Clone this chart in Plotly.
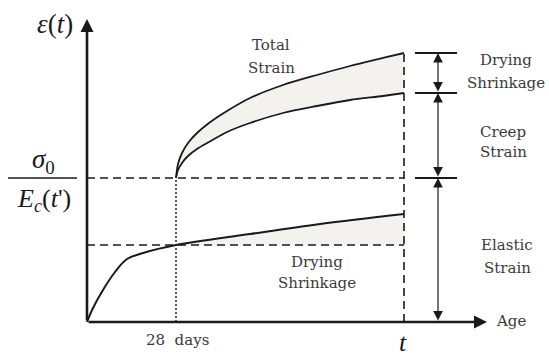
import plotly.graph_objects as go

# ---- data (age units, strain units; origin at lower-left of axes) ----
total_x = [89, 91, 95, 101, 110, 122, 140, 163, 196, 230, 263, 296, 317]
total_y = [144, 158, 169, 179, 189, 199, 211, 224, 237, 247, 256, 264, 269]

creep_x = [89, 91, 95, 101, 110, 122, 140, 163, 196, 230, 263, 296, 317]
creep_y = [144, 152, 159, 166, 173, 180, 190, 199, 209, 216, 222, 226, 229]

shrink_x = [0, 6, 16, 28, 40, 56, 89, 163, 233, 317]
shrink_y = [0, 14, 32, 50, 63, 69, 77, 88, 98, 108]

t28 = 89          # age at 28 days
t_end = 317       # age t
elastic = 144     # sigma0 / Ec(t')
shrink28 = 77     # shrinkage at 28 days

TXT = dict(family="DejaVu Serif", size=15, color="#3a3a3a")
MATH = "Liberation Serif"
INK = "#1a1a1a"
FILL = "#f3f2ee"

fig = go.Figure()

# fill between total and creep curves
fig.add_trace(go.Scatter(x=creep_x, y=creep_y, mode="lines",
                         line=dict(color=INK, width=1.8, shape="spline", smoothing=0.8),
                         hoverinfo="skip"))
fig.add_trace(go.Scatter(x=total_x, y=total_y, mode="lines",
                         line=dict(color=INK, width=1.8, shape="spline", smoothing=0.8),
                         fill="tonexty", fillcolor=FILL, hoverinfo="skip"))

# shrinkage fill region after 28 days
sx = [x for x in shrink_x if x >= t28]
sy = [y for x, y in zip(shrink_x, shrink_y) if x >= t28]
fig.add_trace(go.Scatter(x=sx + [t_end, t28], y=sy + [shrink28, shrink28],
                         mode="lines", line=dict(width=0), fill="toself",
                         fillcolor=FILL, hoverinfo="skip"))

# dashed guide lines
fig.add_trace(go.Scatter(x=[0, t_end], y=[elastic, elastic], mode="lines",
                         line=dict(color=INK, width=1.6, dash="8px,5px"), hoverinfo="skip"))
fig.add_trace(go.Scatter(x=[0, t_end], y=[shrink28, shrink28], mode="lines",
                         line=dict(color=INK, width=1.6, dash="8px,5px"), hoverinfo="skip"))
fig.add_trace(go.Scatter(x=[t_end, t_end], y=[0, total_y[-1]], mode="lines",
                         line=dict(color=INK, width=1.6, dash="8px,5px"), hoverinfo="skip"))
fig.add_trace(go.Scatter(x=[t28, t28], y=[0, elastic], mode="lines",
                         line=dict(color=INK, width=1.4, dash="2px,2px"), hoverinfo="skip"))

# shrinkage curve
fig.add_trace(go.Scatter(x=shrink_x, y=shrink_y, mode="lines",
                         line=dict(color=INK, width=2, shape="spline"), hoverinfo="skip"))

# right-hand bracket ticks
for yv in [total_y[-1], creep_y[-1], elastic]:
    fig.add_trace(go.Scatter(x=[328, 370], y=[yv, yv], mode="lines",
                             line=dict(color=INK, width=1.8), hoverinfo="skip"))

ann = []
def arrow(x0, y0, x1, y1, width, both=False, size=1.0):
    ann.append(dict(x=x1, y=y1, ax=x0, ay=y0, xref="x", yref="y", axref="x", ayref="y",
                    text="", showarrow=True, arrowhead=2, arrowsize=size,
                    arrowwidth=width, arrowcolor=INK, standoff=0, startstandoff=0,
                    arrowside="end+start" if both else "end", startarrowhead=2,
                    startarrowsize=size))

# axes
arrow(0, 0, 0, 303, 2.6, size=1.0)
arrow(0, 0, 400, 0, 2.6, size=1.0)
# double arrows
arrow(351, creep_y[-1], 351, total_y[-1], 1.2, both=True, size=1.6)
arrow(351, elastic, 351, creep_y[-1], 1.2, both=True, size=1.6)
arrow(351, 0, 351, elastic, 1.2, both=True, size=1.6)

def text(x, y, s, font=TXT):
    ann.append(dict(x=x, y=y, xref="x", yref="y", text=s, showarrow=False,
                    font=font, xanchor="center", yanchor="middle"))

text(184, 277, "Total")
text(184, 254, "Strain")
text(230, 60, "Drying")
text(230, 39, "Shrinkage")
text(419, 262, "Drying")
text(419, 239, "Shrinkage")
text(416, 190, "Creep")
text(416, 170, "Strain")
text(420, 77, "Elastic")
text(420, 54, "Strain")
text(424, 1, "Age")
text(90, -18, "28  days")
text(316, -20, "<i>t</i>", dict(family=MATH, size=26, color=INK))
text(-32, 298, "<i>ε</i>(<i>t</i>)", dict(family=MATH, size=27, color=INK))
text(-44, 161, "<i>σ</i><sub>0</sub>", dict(family=MATH, size=27, color=INK))
text(-43, 122, "<i>E<sub>c</sub></i>(<i>t</i>')", dict(family=MATH, size=26, color=INK))

fig.update_layout(
    width=549, height=356, margin=dict(l=0, r=0, t=0, b=0),
    paper_bgcolor="white", plot_bgcolor="white", showlegend=False,
    xaxis=dict(range=[-87, 462], visible=False, fixedrange=True),
    yaxis=dict(range=[-34, 322], visible=False, fixedrange=True),
    annotations=ann,
    shapes=[dict(type="line", xref="x", yref="y", x0=-79, x1=-10, y0=elastic, y1=elastic,
                 line=dict(color=INK, width=1.4))],
)

fig.write_html("out.html")
